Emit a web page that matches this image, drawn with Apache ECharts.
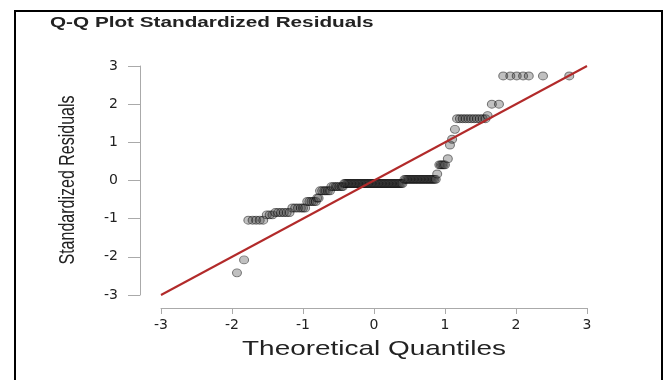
<!DOCTYPE html>
<html>
<head>
<meta charset="utf-8">
<script src="https://cdn.jsdelivr.net/npm/echarts@6/dist/echarts.min.js"></script>
<style>html,body{margin:0;padding:0;background:#fff}#c{width:666px;height:380px}</style>
</head>
<body>
<div id="c"></div>
<script>
// Theoretical quantiles (x) and standardized residuals (y)
var quantiles = [
  -1.93, -1.83,
  -1.77, -1.71, -1.66, -1.61, -1.56,
  -1.51, -1.47, -1.43,
  -1.39, -1.35, -1.31, -1.27, -1.23, -1.19,
  -1.15, -1.11, -1.07, -1.03, -1.00, -0.97,
  -0.94, -0.91, -0.88, -0.85, -0.82,
  -0.80, -0.78,
  -0.76, -0.73, -0.70, -0.68, -0.65, -0.62,
  -0.60, -0.57, -0.54, -0.52, -0.49, -0.46, -0.44,
  -0.42, -0.40, -0.38, -0.36, -0.34, -0.32, -0.30, -0.28, -0.26, -0.24, -0.22, -0.20, -0.18, -0.16,
  -0.14, -0.12, -0.10, -0.08, -0.06, -0.04, -0.02, 0.00, 0.02, 0.04, 0.06, 0.08, 0.10, 0.12,
  0.14, 0.16, 0.18, 0.20, 0.22, 0.24, 0.26, 0.28, 0.30, 0.32, 0.34, 0.36, 0.38, 0.40,
  0.43, 0.45, 0.47, 0.49, 0.51, 0.53, 0.55, 0.57, 0.59, 0.61, 0.63, 0.65, 0.67, 0.69, 0.71,
  0.73, 0.75, 0.77, 0.79, 0.81, 0.83, 0.85, 0.87,
  0.89,
  0.92, 0.94, 0.96, 0.98, 1.00,
  1.04, 1.07, 1.10, 1.14,
  1.17, 1.21, 1.25, 1.29, 1.33, 1.37, 1.41, 1.45, 1.49, 1.53, 1.57,
  1.60,
  1.66, 1.76,
  1.82, 1.92, 2.01, 2.10, 2.18, 2.38, 2.75
];
var residuals = [
  -2.42, -2.08,
  -1.04, -1.04, -1.04, -1.04, -1.04,
  -0.90, -0.90, -0.90,
  -0.84, -0.84, -0.84, -0.84, -0.84, -0.84,
  -0.72, -0.72, -0.72, -0.72, -0.72, -0.72,
  -0.55, -0.55, -0.55, -0.55, -0.55,
  -0.46, -0.46,
  -0.27, -0.27, -0.27, -0.27, -0.27, -0.27,
  -0.16, -0.16, -0.16, -0.16, -0.16, -0.16, -0.16,
  -0.08, -0.08, -0.08, -0.08, -0.08, -0.08, -0.08, -0.08, -0.08, -0.08, -0.08, -0.08, -0.08, -0.08,
  -0.08, -0.08, -0.08, -0.08, -0.08, -0.08, -0.08, -0.08, -0.08, -0.08, -0.08, -0.08, -0.08, -0.08,
  -0.08, -0.08, -0.08, -0.08, -0.08, -0.08, -0.08, -0.08, -0.08, -0.08, -0.08, -0.08, -0.08, -0.08,
  0.03, 0.03, 0.03, 0.03, 0.03, 0.03, 0.03, 0.03, 0.03, 0.03, 0.03, 0.03, 0.03, 0.03, 0.03,
  0.03, 0.03, 0.03, 0.03, 0.03, 0.03, 0.03, 0.03,
  0.17,
  0.41, 0.41, 0.41, 0.41, 0.41,
  0.57, 0.93, 1.08, 1.34,
  1.62, 1.62, 1.62, 1.62, 1.62, 1.62, 1.62, 1.62, 1.62, 1.62, 1.62,
  1.70,
  2.00, 2.00,
  2.74, 2.74, 2.74, 2.74, 2.74, 2.74, 2.74
];
// Reference line y = x
var lineX = [-3, 3];
var lineY = [-3, 3];
var xTicks = [-3, -2, -1, 0, 1, 2, 3];
var yTicks = [-3, -2, -1, 0, 1, 2, 3];

var titleText = 'Q-Q Plot Standardized Residuals';
var xName = 'Theoretical Quantiles';
var yName = 'Standardized Residuals';

var pts = quantiles.map(function (q, i) { return [q, residuals[i]]; });
var linePts = lineX.map(function (x, i) { return [x, lineY[i]]; });

var chart = echarts.init(document.getElementById('c'), null, {renderer: 'canvas'});
var SX = 1.33;
var font = "'Liberation Sans', Arial, sans-serif";
var tickFont = "'DejaVu Sans', 'Liberation Sans', sans-serif";
chart.setOption({
  animation: false,
  backgroundColor: '#fff',
  grid: {left: 161, right: 79, top: 66, bottom: 85, containLabel: false},
  xAxis: {
    type: 'value', min: xTicks[0], max: xTicks[xTicks.length - 1], interval: 1,
    offset: 13,
    axisLine: {show: true, onZero: false, lineStyle: {color: '#aaa', width: 1}},
    axisTick: {show: true, length: 6, lineStyle: {color: '#aaa'}},
    axisLabel: {color: '#222', fontSize: 14, fontFamily: tickFont, margin: 10},
    splitLine: {show: false}
  },
  yAxis: {
    type: 'value', min: yTicks[0], max: yTicks[yTicks.length - 1], interval: 1,
    offset: 21,
    axisLine: {show: true, onZero: false, lineStyle: {color: '#aaa', width: 1}},
    axisTick: {show: true, length: 12, lineStyle: {color: '#aaa'}},
    axisLabel: {color: '#222', fontSize: 14, fontFamily: tickFont, margin: 22},
    splitLine: {show: false}
  },
  series: [
    {
      type: 'scatter',
      data: pts,
      symbol: 'circle',
      symbolSize: [9, 8],
      itemStyle: {color: 'rgba(60,60,60,0.4)', borderColor: 'rgba(0,0,0,0.6)', borderWidth: 1},
      z: 2
    },
    {
      type: 'line',
      data: linePts,
      symbol: 'none',
      lineStyle: {color: '#b22a2a', width: 2},
      z: 3
    }
  ],
  graphic: [
    {
      type: 'rect', silent: true,
      shape: {x: 15, y: 11, width: 647, height: 390},
      style: {fill: 'none', stroke: '#000', lineWidth: 2}
    },
    {
      type: 'text', x: 50, y: 23, scaleX: 1.48, silent: true,
      style: {text: titleText, fontSize: 14, fontWeight: 'bold', fontFamily: font, fill: '#222',
              align: 'left', verticalAlign: 'middle', textAlign: 'left', textVerticalAlign: 'middle'}
    },
    {
      type: 'text', x: 374, y: 349, scaleX: SX, silent: true,
      style: {text: xName, fontSize: 21, fontFamily: font, fill: '#222',
              align: 'center', verticalAlign: 'middle', textAlign: 'center', textVerticalAlign: 'middle'}
    },
    {
      type: 'text', x: 68, y: 180, rotation: Math.PI / 2, scaleY: SX, silent: true,
      style: {text: yName, fontSize: 16, fontFamily: font, fill: '#222',
              align: 'center', verticalAlign: 'middle', textAlign: 'center', textVerticalAlign: 'middle'}
    }
  ]
});
</script>
</body>
</html>
